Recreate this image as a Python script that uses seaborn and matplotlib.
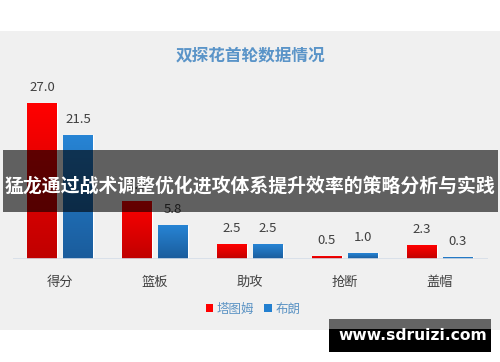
import matplotlib
matplotlib.use("Agg")
import matplotlib.pyplot as plt
from matplotlib.patches import Rectangle, Patch
from matplotlib.colors import LinearSegmentedColormap
import numpy as np
import pandas as pd
import seaborn as sns

categories = ['得分', '篮板', '助攻', '抢断', '盖帽']
players = ['塔图姆', '布朗']
tatum = [27.0, 9.9, 2.5, 0.5, 2.3]
brown = [21.5, 5.8, 2.5, 1.0, 0.3]

title = '双探花首轮数据情况'
banner = '猛龙通过战术调整优化进攻体系提升效率的策略分析与实践'
watermark = 'www.sdruizi.com'

df = pd.DataFrame({
    'cat': categories * 2,
    'player': [players[0]] * len(categories) + [players[1]] * len(categories),
    'val': tatum + brown,
})

sns.set_theme(style='white')
plt.rcParams['font.family'] = ['Noto Sans CJK SC', 'DejaVu Sans']

W, H = 500, 362
fig = plt.figure(figsize=(W / 100, H / 100), dpi=100)
fig.patch.set_facecolor('white')


def fx(px):
    return px / W


def fy(py):
    return 1 - py / H


# grey panel
fig.patches.append(Rectangle((0, fy(330)), 1, fy(31) - fy(330), transform=fig.transFigure,
                             facecolor='#f0f0f0', edgecolor='none', zorder=-2))

ax = fig.add_axes([fx(12.5), fy(259), fx(475), fy(86) - fy(259)])
ax.set_facecolor('none')

colors = {'塔图姆': '#ff0000', '布朗': '#2380d0'}
grads = [('#c00000', '#ff0000'), ('#1a5c9c', '#2784d4')]

sns.barplot(data=df, x='cat', y='val', hue='player', palette=colors, order=categories,
            hue_order=players, width=0.76, gap=0.18, ax=ax, legend=False, saturation=1)

for i, cont in enumerate(ax.containers):
    cmap = LinearSegmentedColormap.from_list('g%d' % i, grads[i])
    for p in cont.patches:
        x0, y0, w, h = p.get_x(), p.get_y(), p.get_width(), p.get_height()
        ax.imshow(np.linspace(0, 1, 64).reshape(-1, 1), extent=[x0, x0 + w, y0, y0 + h],
                  origin='lower', cmap=cmap, aspect='auto', zorder=3)
        ax.annotate('%.1f' % h, (x0 + w / 2, y0 + h), xytext=(0, 11.5), textcoords='offset points',
                    ha='center', va='center', fontsize=9.5, color='#404040')

ax.set_xlim(-0.5, 4.5)
ax.set_ylim(0, 30)
ax.axhline(0, color='#d5dde8', lw=1.2, zorder=4)
for s in ax.spines.values():
    s.set_visible(False)
ax.set_yticks([])
ax.set_xlabel('')
ax.set_ylabel('')
ax.tick_params(axis='x', length=0, pad=12, labelsize=9.5, labelcolor='#404040')

fig.text(0.5, fy(55), title, ha='center', va='center', fontsize=12, fontweight='bold',
         color='#5a94c8')

handles = [Patch(facecolor=colors[p], edgecolor='none') for p in players]
fig.legend(handles, players, loc='center', bbox_to_anchor=(fx(253), fy(309)), ncol=2, frameon=False,
           fontsize=9, labelcolor='#5b93c4', handlelength=0.6, handleheight=0.6,
           handletextpad=0.3, columnspacing=0.8)

# banner overlay
fig.patches.append(Rectangle((fx(3), fy(212)), fx(495), fy(150) - fy(212), transform=fig.transFigure,
                             facecolor='black', alpha=0.6, edgecolor='none', zorder=5))
fig.text(0.5, fy(186), banner, ha='center', va='center', fontsize=13.6, fontweight='bold',
         color='white', zorder=6)

# watermark
fig.patches.append(Rectangle((fx(329), fy(329)), fx(162), fy(319) - fy(329), transform=fig.transFigure,
                             facecolor='#646464', edgecolor='none', zorder=5))
fig.patches.append(Rectangle((fx(329), fy(352)), fx(162), fy(329) - fy(352), transform=fig.transFigure,
                             facecolor='black', edgecolor='none', zorder=5))
fig.text(fx(413), fy(336), watermark, ha='center', va='center', fontsize=11.2, fontweight='bold',
         color='white', family=['DejaVu Sans'], zorder=6)

fig.savefig('out.png', dpi=100)
